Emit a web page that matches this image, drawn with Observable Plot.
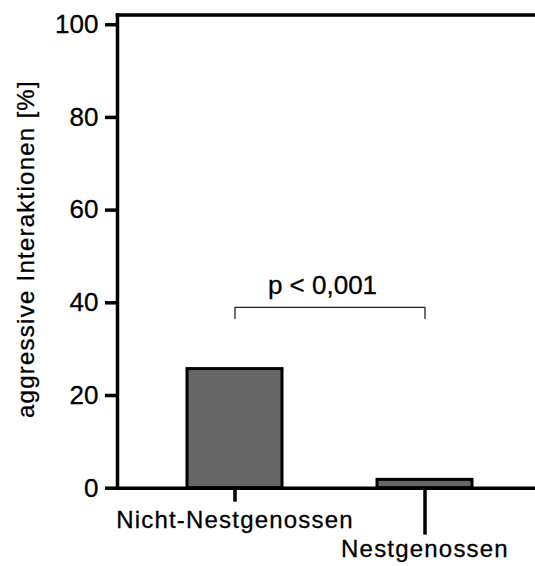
<!DOCTYPE html>
<html><head><meta charset="utf-8">
<script src="https://cdn.jsdelivr.net/npm/d3@7"></script>
<script src="https://cdn.jsdelivr.net/npm/@observablehq/plot@0.6"></script>
<style>
body{margin:0;background:#fff}
svg{display:block}
svg text{stroke:#000;stroke-width:0.3px}
.xlab text{letter-spacing:1.2px}
.ylab text{letter-spacing:1.25px}
</style>
</head><body><div id="chart"></div>
<script>
const categories = ["Nicht-Nestgenossen", "Nestgenossen"];
const values = [25.7, 1.8];
const yTicks = [0, 20, 40, 60, 80, 100];
const yLabel = "aggressive Interaktionen [%]";
const pLabel = "p < 0,001";
const bracketLevel = 39;
const bracketEnd = 36.6;
const pLabelLevel = 43.8;

const data = categories.map((c, i) => ({category: c, value: values[i]}));
const bracket = [
  {x: categories[0], y: bracketEnd},
  {x: categories[0], y: bracketLevel},
  {x: categories[1], y: bracketLevel},
  {x: categories[1], y: bracketEnd}
];
const font = "'Liberation Sans', Arial, Helvetica, sans-serif";
const chart = Plot.plot({
  width: 535, height: 566,
  marginLeft: 117, marginRight: 0, marginTop: 14.5, marginBottom: 78.3,
  style: {fontFamily: font, fontSize: "26px", color: "#000", background: "#fff", overflow: "visible"},
  x: {type: "band", domain: categories, range: [186, 472], paddingInner: 0.5, paddingOuter: 0, align: 0.5},
  y: {domain: [0, 102.1]},
  marks: [
    Plot.barY(data, {x: "category", y: "value", fill: "#666666", stroke: "#000", strokeWidth: 3}),
    Plot.frame({anchor: "top", strokeWidth: 3.5}),
    Plot.frame({anchor: "bottom", strokeWidth: 3.5}),
    Plot.frame({anchor: "left", strokeWidth: 3.5}),
    Plot.axisY({ticks: yTicks, tickSize: 12, tickPadding: 7, strokeWidth: 3.5, label: null, fontSize: 26}),
    Plot.axisX({ticks: [categories[0]], tickSize: 14, tickPadding: 9, strokeWidth: 3.5, label: null, fontSize: 24, className: "xlab"}),
    Plot.axisX({ticks: [categories[1]], tickSize: 47, tickPadding: 5, strokeWidth: 3.5, label: null, fontSize: 24, className: "xlab"}),
    Plot.line(bracket, {x: "x", y: "y", stroke: "#222", strokeWidth: 1.3}),
    Plot.text([{t: pLabel, y: pLabelLevel}], {text: "t", y: "y", frameAnchor: "middle", fontSize: 26, dx: -4}),
    Plot.text([{t: yLabel}], {text: "t", frameAnchor: "left", textAnchor: "middle", rotate: -90, dx: -101, dy: -2.5, lineAnchor: "top", fontSize: 24, className: "ylab"})
  ]
});
document.getElementById("chart").appendChild(chart);
</script>
</body></html>
